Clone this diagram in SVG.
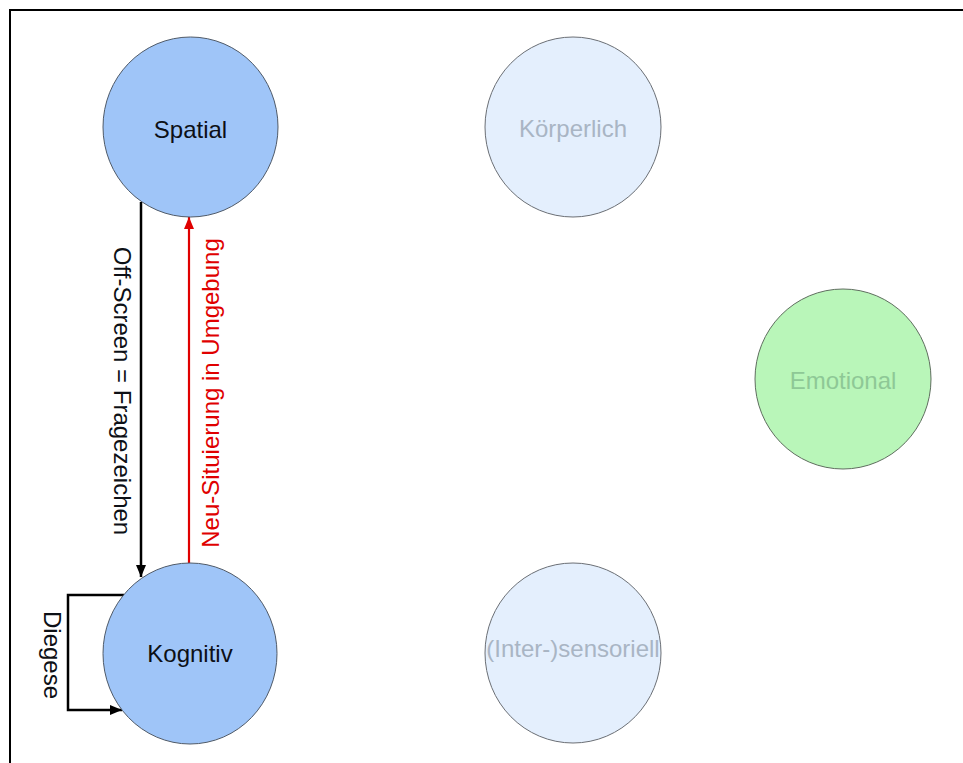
<svg xmlns="http://www.w3.org/2000/svg" width="963" height="763" viewBox="0 0 963 763">
  <style>
    .lbl { font-family: "Liberation Sans", Arial, sans-serif; font-size: 24px; text-anchor: middle; }
    .node-strong { fill: #9fc5f8; stroke: #4f5a68; stroke-width: 1; }
    .node-faint { fill: #e4effd; stroke: #6b6f75; stroke-width: 1; }
    .node-green { fill: #b9f6b9; stroke: #5f6e5f; stroke-width: 1; }
    .txt-dark { fill: #0d1016; }
    .txt-faint { fill: #a9b5c4; }
    .txt-green { fill: #8ec896; }
    .conn { fill: none; stroke-linejoin: miter; }
  </style>
  <defs>
    <marker id="arrow-black" markerUnits="userSpaceOnUse" markerWidth="13" markerHeight="10" refX="12" refY="5" orient="auto">
      <path d="M0,0 L12,5 L0,10 Z" fill="#000"/>
    </marker>
    <marker id="arrow-red" markerUnits="userSpaceOnUse" markerWidth="13" markerHeight="10" refX="12" refY="5" orient="auto">
      <path d="M0,0 L12,5 L0,10 Z" fill="#e00000"/>
    </marker>
  </defs>

  <rect width="963" height="763" fill="#ffffff"/>
  <!-- page frame -->
  <rect x="10" y="10" width="1000" height="1000" fill="none" stroke="#000" stroke-width="2"/>

  <!-- connectors -->
  <g id="connectors">
    <path class="conn" d="M141,202 L141,577" stroke="#000" stroke-width="2.5" marker-end="url(#arrow-black)"/>
    <path class="conn" d="M189,563 L189,217" stroke="#e00000" stroke-width="2.2" marker-end="url(#arrow-red)"/>
    <path class="conn" d="M124,595 L68,595 L68,710 L122,710" stroke="#000" stroke-width="2.5" marker-end="url(#arrow-black)"/>
    <text class="lbl txt-dark" transform="translate(114,391) rotate(90)">Off-Screen = Fragezeichen</text>
    <text class="lbl" fill="#e00000" transform="translate(219,393) rotate(-90)">Neu-Situierung in Umgebung</text>
    <text class="lbl txt-dark" transform="translate(44,655) rotate(90)">Diegese</text>
  </g>

  <g id="node-spatial">
    <ellipse class="node-strong" cx="190.5" cy="127" rx="87.5" ry="90"/>
    <text class="lbl txt-dark" x="190.5" y="138">Spatial</text>
  </g>

  <g id="node-kognitiv">
    <ellipse class="node-strong" cx="190" cy="653.5" rx="87" ry="90.5"/>
    <text class="lbl txt-dark" x="190" y="662">Kognitiv</text>
  </g>

  <g id="node-koerperlich">
    <ellipse class="node-faint" cx="573" cy="127" rx="88" ry="90"/>
    <text class="lbl txt-faint" x="573" y="137">Körperlich</text>
  </g>

  <g id="node-emotional">
    <ellipse class="node-green" cx="843" cy="379" rx="88" ry="90"/>
    <text class="lbl txt-green" x="843" y="389">Emotional</text>
  </g>

  <g id="node-intersensoriell">
    <ellipse class="node-faint" cx="573" cy="653" rx="88" ry="90"/>
    <text class="lbl txt-faint" x="573" y="657">(Inter-)sensoriell</text>
  </g>
</svg>
